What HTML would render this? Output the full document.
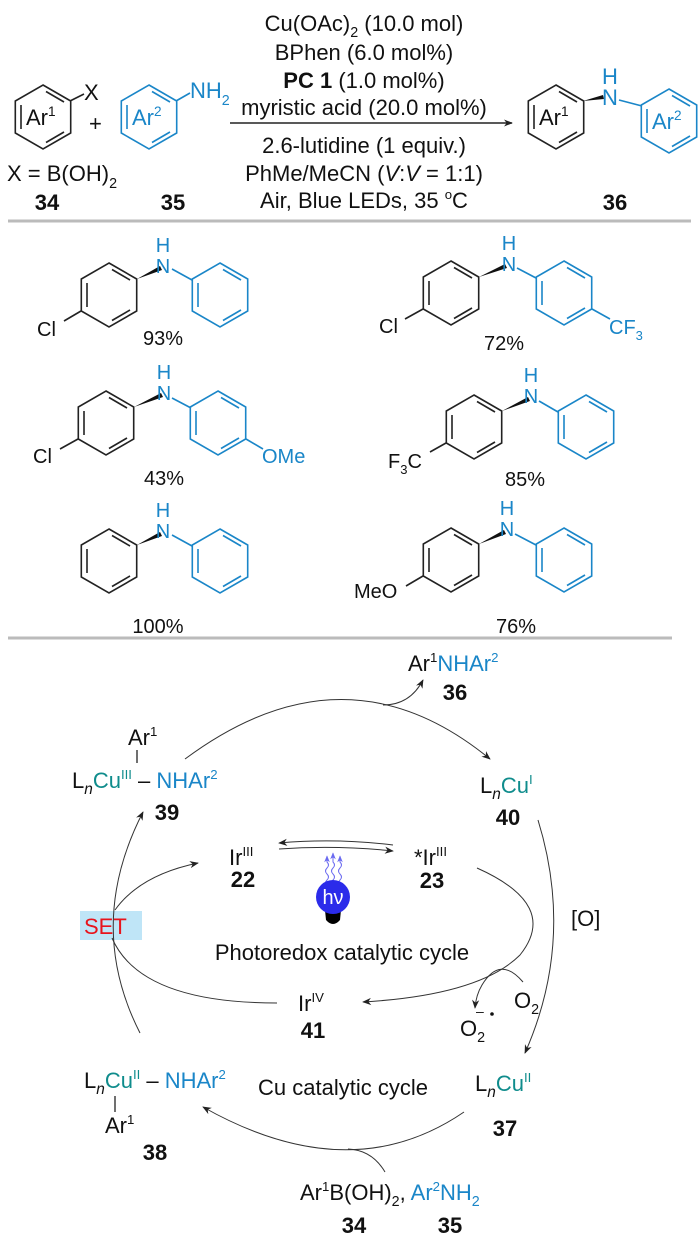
<!DOCTYPE html>
<html><head><meta charset="utf-8"><style>
html,body{margin:0;padding:0;background:#fff;}
svg{display:block;font-family:"Liberation Sans",Arial,sans-serif;}
.b{fill:#1a86c8}.t{fill:#0f8c8c}.k{fill:#111}
.bd{font-weight:bold}
</style></head><body>
<svg width="700" height="1246" viewBox="0 0 700 1246" xmlns="http://www.w3.org/2000/svg">
<defs>
<g id="ring" fill="none" stroke-width="1.6">
<polygon points="0,-32 27.7,-16 27.7,16 0,32 -27.7,16 -27.7,-16"/>
<line x1="-22" y1="-12" x2="-22" y2="12"/>
<line x1="3" y1="-25.5" x2="21" y2="-15"/>
<line x1="21" y1="15" x2="3" y2="25.5"/>
</g>
<marker id="ah" viewBox="0 0 10 10" refX="9" refY="5" markerWidth="9" markerHeight="9" orient="auto" markerUnits="userSpaceOnUse"><path d="M0,1 L10,5 L0,9 L3,5 z" fill="#222"/></marker>
<marker id="ahb" viewBox="0 0 10 10" refX="9" refY="5" markerWidth="7" markerHeight="7" orient="auto" markerUnits="userSpaceOnUse"><path d="M0,1 L10,5 L0,9 L3,5 z" fill="#6a6af0"/></marker>
</defs>

<!-- Reaction scheme -->
<g font-size="22">
<use href="#ring" x="43" y="117" stroke="#222"/>
<text x="26" y="125" class="k">Ar<tspan font-size="0.62em" dy="-9">1</tspan></text>
<line x1="70" y1="101" x2="84" y2="94" stroke="#222" stroke-width="1.6"/>
<text x="84" y="100" class="k">X</text>
<text x="89" y="131" class="k">+</text>
<use href="#ring" x="149" y="117" stroke="#1a86c8"/>
<text x="132" y="125" class="b">Ar<tspan font-size="0.62em" dy="-9">2</tspan></text>
<line x1="176" y1="101" x2="190" y2="93" stroke="#1a86c8" stroke-width="1.6"/>
<text x="190" y="98" class="b">NH<tspan font-size="0.65em" dy="7">2</tspan></text>
<text x="7" y="181" class="k">X = B(OH)<tspan font-size="0.65em" dy="7">2</tspan></text>
<text x="47" y="210" class="k bd" text-anchor="middle">34</text>
<text x="173" y="210" class="k bd" text-anchor="middle">35</text>

<g class="k" text-anchor="middle">
<text x="364" y="31">Cu(OAc)<tspan font-size="0.65em" dy="6">2</tspan><tspan dy="-6"> (10.0 mol)</tspan></text>
<text x="364" y="60">BPhen (6.0 mol%)</text>
<text x="364" y="88"><tspan font-weight="bold">PC 1</tspan> (1.0 mol%)</text>
<text x="364" y="115">myristic acid (20.0 mol%)</text>
<text x="364" y="153">2.6-lutidine (1 equiv.)</text>
<text x="364" y="181">PhMe/MeCN (<tspan font-style="italic">V</tspan>:<tspan font-style="italic">V</tspan> = 1:1)</text>
<text x="364" y="208">Air, Blue LEDs, 35 <tspan font-size="0.6em" dy="-9">o</tspan><tspan dy="9">C</tspan></text>
</g>
<line x1="230" y1="123" x2="512" y2="123" stroke="#222" stroke-width="1.4" marker-end="url(#ah)"/>

<use href="#ring" x="556" y="117" stroke="#222"/>
<text x="539" y="125" class="k">Ar<tspan font-size="0.62em" dy="-9">1</tspan></text>
<polygon points="583,101 603,95 604,99" fill="#111"/>
<text x="610" y="105" class="b" text-anchor="middle">N</text>
<text x="610" y="84" class="b" text-anchor="middle">H</text>
<line x1="619" y1="100" x2="642" y2="106" stroke="#1a86c8" stroke-width="1.6"/>
<use href="#ring" x="669" y="121" stroke="#1a86c8"/>
<text x="652" y="129" class="b">Ar<tspan font-size="0.62em" dy="-9">2</tspan></text>
<text x="615" y="210" class="k bd" text-anchor="middle">36</text>
</g>

<line x1="8" y1="221" x2="691" y2="221" stroke="#bbb" stroke-width="3"/>

<!-- Products -->
<g font-size="20">
<!-- 1 -->
<use href="#ring" x="109" y="295" stroke="#222"/>
<line x1="81" y1="311" x2="64" y2="321" stroke="#222" stroke-width="1.6"/>
<text x="37" y="336" class="k">Cl</text>
<polygon points="137,279 160,266 162,270" fill="#111"/>
<text x="163" y="273" class="b" text-anchor="middle">N</text>
<text x="163" y="252" class="b" text-anchor="middle">H</text>
<line x1="172" y1="269" x2="192" y2="280" stroke="#1a86c8" stroke-width="1.6"/>
<use href="#ring" x="220" y="295" stroke="#1a86c8"/>
<text x="163" y="345" class="k" text-anchor="middle">93%</text>
<!-- 2 -->
<use href="#ring" x="451" y="293" stroke="#222"/>
<line x1="423" y1="309" x2="405" y2="319" stroke="#222" stroke-width="1.6"/>
<text x="379" y="333" class="k">Cl</text>
<polygon points="479,277 505,264 507,268" fill="#111"/>
<text x="509" y="271" class="b" text-anchor="middle">N</text>
<text x="509" y="250" class="b" text-anchor="middle">H</text>
<line x1="517" y1="268" x2="536" y2="278" stroke="#1a86c8" stroke-width="1.6"/>
<use href="#ring" x="564" y="293" stroke="#1a86c8"/>
<line x1="592" y1="309" x2="610" y2="319" stroke="#1a86c8" stroke-width="1.6"/>
<text x="609" y="334" class="b">CF<tspan font-size="0.65em" dy="6">3</tspan></text>
<text x="504" y="350" class="k" text-anchor="middle">72%</text>
<!-- 3 -->
<use href="#ring" x="106" y="423" stroke="#222"/>
<line x1="78" y1="439" x2="60" y2="449" stroke="#222" stroke-width="1.6"/>
<text x="33" y="463" class="k">Cl</text>
<polygon points="134,407 161,393 163,397" fill="#111"/>
<text x="164" y="400" class="b" text-anchor="middle">N</text>
<text x="164" y="379" class="b" text-anchor="middle">H</text>
<line x1="172" y1="398" x2="191" y2="408" stroke="#1a86c8" stroke-width="1.6"/>
<use href="#ring" x="218" y="423" stroke="#1a86c8"/>
<line x1="246" y1="439" x2="263" y2="449" stroke="#1a86c8" stroke-width="1.6"/>
<text x="262" y="463" class="b">OMe</text>
<text x="164" y="485" class="k" text-anchor="middle">43%</text>
<!-- 4 -->
<use href="#ring" x="474" y="427" stroke="#222"/>
<line x1="446" y1="443" x2="430" y2="452" stroke="#222" stroke-width="1.6"/>
<text x="388" y="468" class="k">F<tspan font-size="0.65em" dy="6">3</tspan><tspan dy="-6">C</tspan></text>
<polygon points="502,411 528,397 530,401" fill="#111"/>
<text x="531" y="403" class="b" text-anchor="middle">N</text>
<text x="531" y="382" class="b" text-anchor="middle">H</text>
<line x1="539" y1="401" x2="558" y2="412" stroke="#1a86c8" stroke-width="1.6"/>
<use href="#ring" x="586" y="427" stroke="#1a86c8"/>
<text x="525" y="486" class="k" text-anchor="middle">85%</text>
<!-- 5 -->
<use href="#ring" x="109" y="561" stroke="#222"/>
<polygon points="137,545 160,532 162,536" fill="#111"/>
<text x="163" y="538" class="b" text-anchor="middle">N</text>
<text x="163" y="517" class="b" text-anchor="middle">H</text>
<line x1="172" y1="535" x2="192" y2="546" stroke="#1a86c8" stroke-width="1.6"/>
<use href="#ring" x="220" y="561" stroke="#1a86c8"/>
<text x="158" y="633" class="k" text-anchor="middle">100%</text>
<!-- 6 -->
<use href="#ring" x="451" y="560" stroke="#222"/>
<line x1="423" y1="576" x2="406" y2="586" stroke="#222" stroke-width="1.6"/>
<text x="354" y="598" class="k">MeO</text>
<polygon points="479,544 504,530 506,534" fill="#111"/>
<text x="507" y="536" class="b" text-anchor="middle">N</text>
<text x="507" y="515" class="b" text-anchor="middle">H</text>
<line x1="515" y1="534" x2="536" y2="545" stroke="#1a86c8" stroke-width="1.6"/>
<use href="#ring" x="564" y="560" stroke="#1a86c8"/>
<text x="516" y="633" class="k" text-anchor="middle">76%</text>
</g>

<line x1="8" y1="638" x2="672" y2="638" stroke="#bbb" stroke-width="3"/>

<!-- Catalytic cycle -->
<g font-size="22">
<text x="408" y="671" class="k">Ar<tspan font-size="0.6em" dy="-9">1</tspan><tspan dy="9" class="b">NHAr</tspan><tspan font-size="0.6em" dy="-9" class="b">2</tspan></text>
<text x="455" y="700" class="k bd" text-anchor="middle">36</text>

<text x="128" y="745" class="k">Ar<tspan font-size="0.6em" dy="-9">1</tspan></text>
<line x1="137" y1="750" x2="137" y2="763" stroke="#222" stroke-width="1.3"/>
<text x="72" y="788" class="k">L<tspan font-style="italic" font-size="0.7em" dy="6">n</tspan><tspan dy="-6" class="t">Cu</tspan><tspan font-size="0.6em" dy="-9" class="t">III</tspan><tspan dy="9"> – </tspan><tspan class="b">NHAr</tspan><tspan font-size="0.6em" dy="-9" class="b">2</tspan></text>
<text x="167" y="820" class="k bd" text-anchor="middle">39</text>

<text x="480" y="793" class="k">L<tspan font-style="italic" font-size="0.7em" dy="6">n</tspan><tspan dy="-6" class="t">Cu</tspan><tspan font-size="0.6em" dy="-9" class="t">I</tspan></text>
<text x="508" y="825" class="k bd" text-anchor="middle">40</text>

<text x="229" y="865" class="k">Ir<tspan font-size="0.6em" dy="-9">III</tspan></text>
<text x="243" y="887" class="k bd" text-anchor="middle">22</text>
<text x="414" y="865" class="k">*Ir<tspan font-size="0.6em" dy="-9">III</tspan></text>
<text x="432" y="888" class="k bd" text-anchor="middle">23</text>

<rect x="80" y="911" width="62" height="29" fill="#bfe5f7"/>
<text x="84" y="934" fill="#e8141c">SET</text>
<text x="571" y="926" class="k">[O]</text>
<text x="342" y="960" class="k" text-anchor="middle">Photoredox catalytic cycle</text>

<text x="298" y="1011" class="k">Ir<tspan font-size="0.6em" dy="-9">IV</tspan></text>
<text x="313" y="1038" class="k bd" text-anchor="middle">41</text>
<text x="514" y="1008" class="k">O<tspan font-size="0.65em" dy="6">2</tspan></text>
<text x="460" y="1036" class="k">O<tspan font-size="0.65em" dy="6">2</tspan></text>
<text x="476" y="1016" font-size="14" class="k">–</text>
<circle cx="492" cy="1014" r="1.8" fill="#111"/>

<text x="84" y="1088" class="k">L<tspan font-style="italic" font-size="0.7em" dy="6">n</tspan><tspan dy="-6" class="t">Cu</tspan><tspan font-size="0.6em" dy="-9" class="t">II</tspan><tspan dy="9"> – </tspan><tspan class="b">NHAr</tspan><tspan font-size="0.6em" dy="-9" class="b">2</tspan></text>
<line x1="115" y1="1096" x2="115" y2="1112" stroke="#222" stroke-width="1.3"/>
<text x="105" y="1133" class="k">Ar<tspan font-size="0.6em" dy="-9">1</tspan></text>
<text x="155" y="1160" class="k bd" text-anchor="middle">38</text>
<text x="343" y="1095" class="k" text-anchor="middle">Cu catalytic cycle</text>
<text x="475" y="1091" class="k">L<tspan font-style="italic" font-size="0.7em" dy="6">n</tspan><tspan dy="-6" class="t">Cu</tspan><tspan font-size="0.6em" dy="-9" class="t">II</tspan></text>
<text x="505" y="1136" class="k bd" text-anchor="middle">37</text>

<text x="300" y="1200" class="k">Ar<tspan font-size="0.6em" dy="-9">1</tspan><tspan dy="9">B(OH)</tspan><tspan font-size="0.65em" dy="6">2</tspan><tspan dy="-6">, </tspan><tspan class="b">Ar</tspan><tspan font-size="0.6em" dy="-9" class="b">2</tspan><tspan dy="9" class="b">NH</tspan><tspan font-size="0.65em" dy="6" class="b">2</tspan></text>
<text x="354" y="1233" class="k bd" text-anchor="middle">34</text>
<text x="450" y="1233" class="k bd" text-anchor="middle">35</text>
</g>

<g fill="none" stroke="#333" stroke-width="1">
<path d="M185,759 Q345,640 490,759" marker-end="url(#ah)"/>
<path d="M383,705 Q410,705 423,680" marker-end="url(#ah)"/>
<path d="M538,820 Q575,940 525,1053" marker-end="url(#ah)"/>
<path d="M140,1033 Q85,925 143,812" marker-end="url(#ah)"/>
<path d="M115,910 Q140,875 198,863" marker-end="url(#ah)"/>
<path d="M393,845 Q336,838 279,843" marker-end="url(#ah)"/>
<path d="M279,849 Q336,845 393,851" marker-end="url(#ah)"/>
<path d="M477,868 Q560,905 520,955 Q480,995 363,1002" marker-end="url(#ah)"/>
<path d="M277,1003 Q140,1003 112,938"/>
<path d="M523,982 Q500,955 482,985 Q476,995 475,1008" marker-end="url(#ah)"/>
<path d="M464,1112 Q350,1190 203,1107" marker-end="url(#ah)"/>
<path d="M385,1172 Q372,1150 348,1149"/>
</g>

<g fill="none" stroke="#6a6af0" stroke-width="1">
<path d="M327,886 q-3,-3 0,-6 q3,-3 0,-6 q-3,-3 0,-6 q3,-3 0,-6 L327,856" marker-end="url(#ahb)"/>
<path d="M333,886 q-3,-3 0,-6 q3,-3 0,-6 q-3,-3 0,-6 q3,-3 0,-6 L333,853" marker-end="url(#ahb)"/>
<path d="M340,886 q-3,-3 0,-6 q3,-3 0,-6 q-3,-3 0,-6 q3,-3 0,-6 L340,856" marker-end="url(#ahb)"/>
</g>
<path d="M325,910 L341,910 L340,920 Q333,928 326,920 Z" fill="#000"/>
<circle cx="333" cy="897" r="17" fill="#2b2bea"/>
<text x="333" y="904" font-size="20" fill="#fff" text-anchor="middle">hν</text>
</svg>
</body></html>
